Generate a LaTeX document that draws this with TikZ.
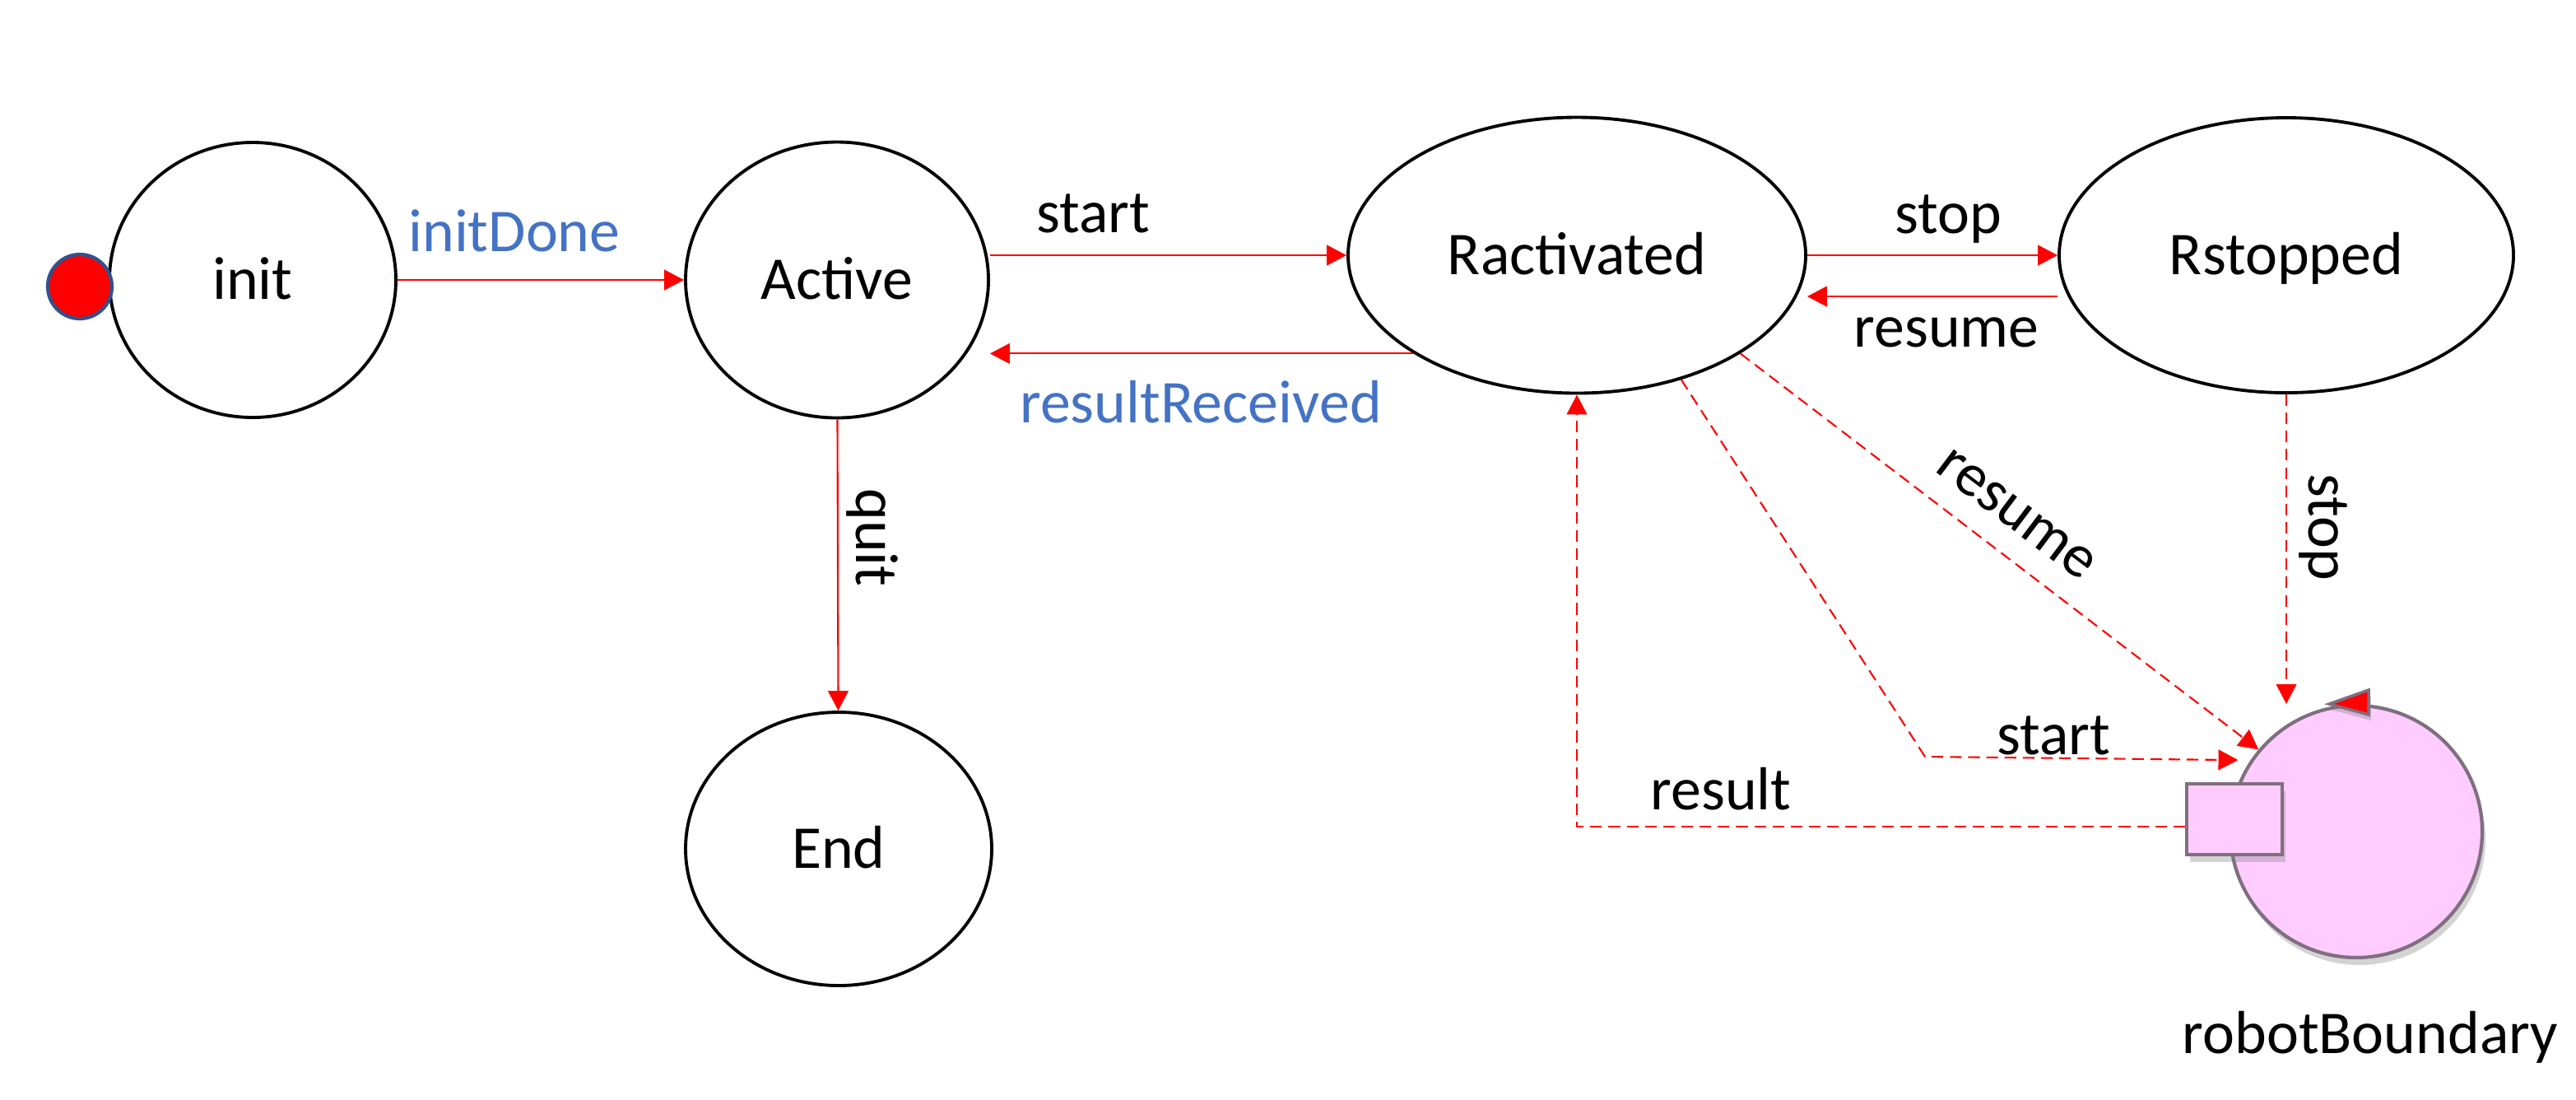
\documentclass[tikz,border=0pt]{standalone}
\usepackage{fontspec}
\setmainfont{Carlito}
\usetikzlibrary{shapes.geometric,arrows.meta,shadows}
\definecolor{stred}{RGB}{255,0,0}
\definecolor{lblblue}{RGB}{68,114,196}
\definecolor{dotblue}{RGB}{47,82,143}
\definecolor{robopink}{RGB}{255,204,255}
\definecolor{robogray}{RGB}{127,111,127}

\begin{document}
\begin{tikzpicture}[
    font=\fontsize{21}{25}\selectfont,
    state/.style={draw,ellipse,line width=1.1pt,inner sep=0pt,text height=13.3pt,text depth=0pt},
    flow/.style={draw=stred,line width=0.6pt,-{Triangle[length=6.8pt,width=7pt]}},
    dflow/.style={flow,dash pattern=on 4pt off 2.3pt},
    lbl/.style={anchor=base},
    robo/.style={fill=robopink,draw=robogray,line width=1.2pt,
      drop shadow={opacity=0.35,shadow xshift=0.04cm,shadow yshift=-0.09cm}}
  ]
  \useasboundingbox (0,0) rectangle (31.30,-13.35);

  % States
  \node[state,minimum width=3.48cm,minimum height=3.34cm] (init) at (3.07,-3.40) {init};
  \node[state,minimum width=3.68cm,minimum height=3.35cm] (Active) at (10.17,-3.40) {Active};
  \node[state,minimum width=3.72cm,minimum height=3.32cm] (End) at (10.19,-10.31) {End};
  \node[state,minimum width=5.56cm,minimum height=3.35cm] (Ractivated) at (19.16,-3.10) {Ractivated};
  \node[state,minimum width=5.52cm,minimum height=3.34cm] (Rstopped) at (27.78,-3.10) {Rstopped};

  % Initial dot
  \node[circle,fill=stred,draw=dotblue,line width=1.2pt,minimum size=0.78cm,inner sep=0pt] (dot) at (0.97,-3.48) {};

  % Robot boundary (circle, port, marker)
  \node[robo,circle,minimum size=3.06cm,inner sep=0pt] (robot) at (28.63,-10.10) {};
  \node[robo,rectangle,minimum width=1.16cm,minimum height=0.86cm,inner sep=0pt] (port) at (27.15,-9.95) {};
  \filldraw[fill=stred,draw=robogray,line width=1pt,
    drop shadow={opacity=0.35,shadow xshift=0.03cm,shadow yshift=-0.07cm}]
    (28.30,-8.55) -- (28.78,-8.38) -- (28.78,-8.68) -- cycle;
  \node[lbl] (robolbl) at (28.80,-12.79) {robotBoundary};

  % Transitions
  \draw[flow] (init) -- (Active);
  \draw[flow] (Active.east |- Ractivated.west) -- (Ractivated.west);
  \draw[flow] (Ractivated.211) -- (Ractivated.211 -| Active.east);
  \draw[flow] (Ractivated) -- (Rstopped);
  \draw[flow] ([yshift=-0.5cm]Rstopped.west) -- ([yshift=-0.5cm]Ractivated.east);
  \draw[flow] (Active) -- (End);

  % Messages to and from the robot
  \coordinate (startbend) at (23.39,-9.19);
  \draw[dflow] (Rstopped.south) -- (Rstopped.south |- robot.north);
  \draw[dflow] (Ractivated.329) -- (robot.140);
  \draw[dflow,shorten >=0.15cm] (Ractivated.310) -- (startbend) -- (robot.146);
  \draw[dflow] ([yshift=-0.09cm]port.west) -| (Ractivated.south);

  % Labels
  \node[lbl,text=lblblue] (initdone) at (6.25,-3.05) {initDone};
  \node[lbl] (startlbl) at (13.28,-2.82) {start};
  \node[lbl,text=lblblue] (resrec) at (14.59,-5.13) {resultReceived};
  \node[lbl] (stoplbl) at (23.67,-2.83) {stop};
  \node[lbl] (resumelbl) at (23.65,-4.21) {resume};
  \node[rotate=-90] (quitlbl) at (10.60,-6.53) {quit};
  \node[rotate=-90] (dstop) at (28.23,-6.40) {stop};
  \node[rotate=-37] (dresume) at (24.50,-6.25) {resume};
  \node[lbl] (dstart) at (24.95,-9.16) {start};
  \node[lbl] (dresult) at (20.91,-9.83) {result};
\end{tikzpicture}
\end{document}
